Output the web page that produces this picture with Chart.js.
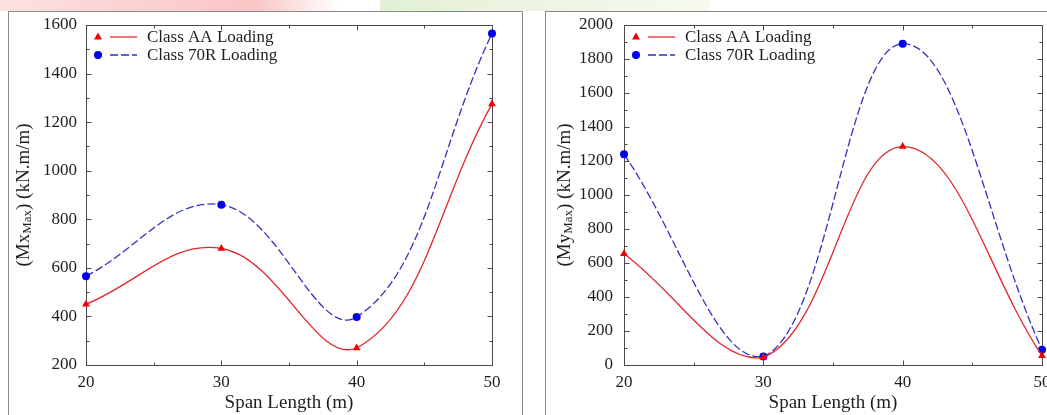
<!DOCTYPE html>
<html lang="en">
<head>
<meta charset="UTF-8">
<title>Maximum Moment vs Span Length</title>
<script src="https://cdn.jsdelivr.net/npm/chart.js@4.4.0/dist/chart.umd.min.js"></script>
<style>
  html, body { margin: 0; padding: 0; background: #fff; overflow: hidden; }
  body { position: relative; width: 1047px; height: 415px; }
  .panel { position: absolute; border: 1px solid #8a8a8a; box-sizing: border-box; }
  #panelL { left: 8px; top: 11px; width: 515px; height: 430px; }
  #panelR { left: 545px; top: 11px; width: 530px; height: 430px; }
  .mark { position: absolute; top: 0; height: 11px; }
  #markA { left: 0; width: 340px; background: linear-gradient(90deg, rgba(245,170,170,0.35), rgba(245,150,150,0.55) 75%, rgba(255,255,255,0)); }
  #markB { left: 380px; width: 330px; background: linear-gradient(90deg, rgba(200,225,170,0.5), rgba(220,235,200,0.25)); }
  canvas { position: absolute; top: 0; }
  #mx { left: 0; }
  #my { left: 530px; }
</style>
</head>
<body>
<div class="mark" id="markA"></div>
<div class="mark" id="markB"></div>
<div class="panel" id="panelL"></div>
<div class="panel" id="panelR"></div>
<canvas id="mx" width="530" height="415"></canvas>
<canvas id="my" width="545" height="415"></canvas>

<script>
// span lengths (m) and maximum moments (kN.m/m)
const spanLength = [20, 30, 40, 50];
const mxClassAA = [450, 680, 270, 1275];
const mxClass70R = [565, 860, 398, 1565];
const myClassAA = [655, 45, 1285, 55];
const myClass70R = [1240, 50, 1890, 90];

const xTicks = [20, 30, 40, 50];
const mxTicks = [200, 400, 600, 800, 1000, 1200, 1400, 1600];
const myTicks = [0, 200, 400, 600, 800, 1000, 1200, 1400, 1600, 1800, 2000];

const SERIF = "'Liberation Serif', 'Times New Roman', serif";
const INK = '#1e1e1e';

function midpoints(v) {
  const out = [];
  for (let i = 0; i < v.length - 1; i++) out.push((v[i] + v[i + 1]) / 2);
  return out;
}

// frame round the plot, inward ticks on all four sides, legend and y title
function decorations(symbol, titleGap) {
  return {
    id: 'decor',
    beforeDatasetsDraw(chart) {
      const { ctx, chartArea: a, scales: { x, y } } = chart;
      const L = Math.round(a.left) + 0.5, R = Math.round(a.right) + 0.5;
      const T = Math.round(a.top) + 0.5, B = Math.round(a.bottom) + 0.5;
      ctx.save();
      ctx.strokeStyle = '#4a4a4a';
      ctx.lineWidth = 1;
      ctx.strokeRect(L, T, R - L, B - T);
      ctx.beginPath();
      const xt = x.ticks.map(t => t.value), yt = y.ticks.map(t => t.value);
      [[xt, 5], [midpoints(xt), 3]].forEach(([vals, len]) => {
        vals.forEach(v => {
          const p = Math.round(x.getPixelForValue(v)) + 0.5;
          ctx.moveTo(p, B); ctx.lineTo(p, B - len);
          ctx.moveTo(p, T); ctx.lineTo(p, T + len);
        });
      });
      [[yt, 5], [midpoints(yt), 3]].forEach(([vals, len]) => {
        vals.forEach(v => {
          const p = Math.round(y.getPixelForValue(v)) + 0.5;
          ctx.moveTo(L, p); ctx.lineTo(L + len, p);
          ctx.moveTo(R, p); ctx.lineTo(R - len, p);
        });
      });
      ctx.stroke();
      ctx.restore();
    },
    afterDraw(chart) {
      const { ctx, chartArea: a } = chart;
      ctx.save();

      // legend: marker, line sample, label
      chart.data.datasets.forEach((ds, i) => {
        const cy = a.top + 12 + i * 18;
        const mx = a.left + 12;
        ctx.fillStyle = ds.pointBackgroundColor;
        ctx.beginPath();
        if (ds.pointStyle === 'triangle') {
          ctx.moveTo(mx, cy - 4.5);
          ctx.lineTo(mx + 4, cy + 2.5);
          ctx.lineTo(mx - 4, cy + 2.5);
          ctx.closePath();
        } else {
          ctx.arc(mx, cy, 4, 0, Math.PI * 2);
        }
        ctx.fill();
        ctx.strokeStyle = ds.borderColor;
        ctx.lineWidth = ds.borderWidth;
        ctx.setLineDash(ds.borderDash || []);
        ctx.beginPath();
        ctx.moveTo(a.left + 24, cy);
        ctx.lineTo(a.left + 51, cy);
        ctx.stroke();
        ctx.setLineDash([]);
        ctx.fillStyle = INK;
        ctx.font = '17px ' + SERIF;
        ctx.textBaseline = 'middle';
        ctx.textAlign = 'left';
        ctx.fillText(ds.label, a.left + 61, cy + 1);
      });

      // rotated y title with subscript
      const big = '19px ' + SERIF, small = '13px ' + SERIF;
      const parts = [
        ['(M' + symbol, big, 0],
        ['Max', small, 4],
        [') (kN.m/m)', big, 0]
      ];
      let total = 0;
      parts.forEach(p => { ctx.font = p[1]; total += ctx.measureText(p[0]).width; });
      ctx.translate(a.left - titleGap, (a.top + a.bottom) / 2);
      ctx.rotate(-Math.PI / 2);
      ctx.fillStyle = INK;
      ctx.textBaseline = 'middle';
      ctx.textAlign = 'left';
      let px = -total / 2;
      parts.forEach(p => {
        ctx.font = p[1];
        ctx.fillText(p[0], px, p[2]);
        px += ctx.measureText(p[0]).width;
      });
      ctx.restore();
    }
  };
}

function makeChart(id, symbol, aa, r70, yTicks, yWidth, padRight, yPad, titleGap) {
  const series = v => spanLength.map((s, i) => ({ x: s, y: v[i] }));
  return new Chart(document.getElementById(id), {
    type: 'line',
    data: {
      datasets: [
        {
          label: 'Class AA Loading',
          data: series(aa),
          borderColor: '#e3262b',
          borderWidth: 1.3,
          pointStyle: 'triangle',
          pointRadius: 4.5,
          pointBackgroundColor: '#f00000',
          pointBorderColor: '#f00000',
          pointBorderWidth: 0,
          tension: 0.4,
          clip: false
        },
        {
          label: 'Class 70R Loading',
          data: series(r70),
          borderColor: '#3232c0',
          borderWidth: 1.3,
          borderDash: [8, 3],
          pointStyle: 'circle',
          pointRadius: 4,
          pointBackgroundColor: '#0000f0',
          pointBorderColor: '#0000f0',
          pointBorderWidth: 0,
          tension: 0.4,
          clip: false
        }
      ]
    },
    options: {
      responsive: false,
      animation: false,
      layout: { padding: { left: 0, right: padRight, top: 25, bottom: 0 } },
      plugins: { legend: { display: false }, tooltip: { enabled: false } },
      scales: {
        x: {
          type: 'linear',
          min: xTicks[0],
          max: xTicks[xTicks.length - 1],
          grid: { display: false, drawTicks: false },
          border: { display: false },
          ticks: { stepSize: xTicks[1] - xTicks[0], padding: 7, color: INK, font: { family: SERIF, size: 17 }, callback: v => String(v) },
          title: { display: true, text: 'Span Length (m)', color: INK, padding: { top: 0, bottom: 1 }, font: { family: SERIF, size: 19 } },
          afterFit: s => { s.height = 50; }
        },
        y: {
          min: yTicks[0],
          max: yTicks[yTicks.length - 1],
          grid: { display: false, drawTicks: false },
          border: { display: false },
          ticks: { stepSize: yTicks[1] - yTicks[0], padding: yPad, color: INK, font: { family: SERIF, size: 17 }, callback: v => String(v) },
          afterFit: s => { s.width = yWidth; }
        }
      }
    },
    plugins: [decorations(symbol, titleGap)]
  });
}

makeChart('mx', 'x', mxClassAA, mxClass70R, mxTicks, 86, 38, 9, 62);
makeChart('my', 'y', myClassAA, myClass70R, myTicks, 94, 33, 11, 59);
</script>
</body>
</html>
